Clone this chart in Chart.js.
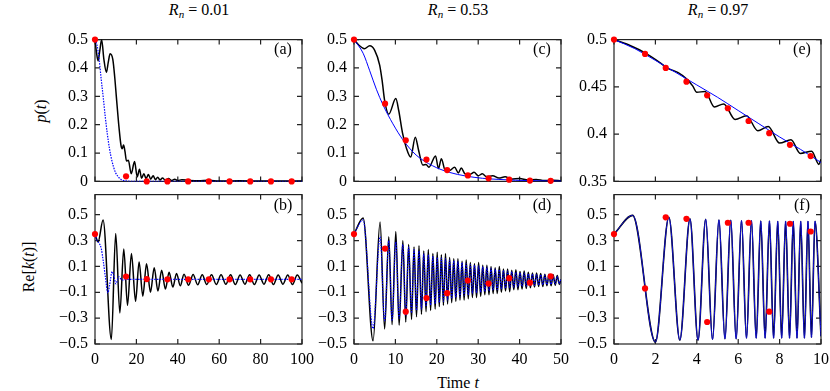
<!DOCTYPE html>
<html>
<head>
<meta charset="utf-8">
<script src="https://cdn.jsdelivr.net/npm/chart.js@4.4.1/dist/chart.umd.min.js"></script>
<style>
  body { margin: 0; background: #fff; }
  #fig { position: relative; width: 830px; height: 391px; font-family: "Liberation Serif", "DejaVu Serif", serif; color: #000; overflow: hidden; }
  #fig canvas { position: absolute; }
  .txt { position: absolute; font-size: 16px; white-space: nowrap; transform: translate(-50%, -50%); }
  .rot { transform: translate(-50%, -50%) rotate(-90deg); }
  sub { font-size: 11px; vertical-align: -3px; line-height: 0; }
</style>
</head>
<body>
<div id="fig">
  <div class="txt" style="left:199px;top:10px"><i>R</i><sub><i>n</i></sub> = 0.01</div>
  <div class="txt" style="left:458px;top:10px"><i>R</i><sub><i>n</i></sub> = 0.53</div>
  <div class="txt" style="left:718px;top:10px"><i>R</i><sub><i>n</i></sub> = 0.97</div>
  <div class="txt rot" style="left:41px;top:111px"><i>p</i>(<i>t</i>)</div>
  <div class="txt rot" style="left:29px;top:267px">Re[<i>k</i>(<i>t</i>)]</div>
  <div class="txt" style="left:458px;top:383px">Time <i>t</i></div>
</div>
<script>
// tick labels
const pTicks = [0, 0.1, 0.2, 0.3, 0.4, 0.5];
const pTicksE = [0.35, 0.4, 0.45, 0.5];
const kTicks = [-0.5, -0.3, -0.1, 0.1, 0.3, 0.5];
const tTicks1 = [0, 20, 40, 60, 80, 100];
const tTicks2 = [0, 10, 20, 30, 40, 50];
const tTicks3 = [0, 2, 4, 6, 8, 10];

// red sample points
const tDots1 = [0, 15, 25, 35, 45, 55, 65, 75, 85, 95];
const tDots2 = [0, 7.5, 12.5, 17.5, 22.5, 27.5, 32.5, 37.5, 42.5, 47.5];
const tDots3 = [0, 1.5, 2.5, 3.5, 4.5, 5.5, 6.5, 7.5, 8.5, 9.5];
const pDotsA = [0.5, 0.018, 0, 0, 0, 0, 0, 0, 0, 0];
const kDotsB = [0.35, 0.022, 0.002, 0, 0, 0, 0, 0, 0, 0];
const pDotsC = [0.5, 0.274, 0.145, 0.077, 0.04, 0.021, 0.011, 0.006, 0.003, 0.002];
const kDotsD = [0.35, 0.238, -0.25, -0.144, -0.107, -0.009, -0.033, 0.009, -0.026, 0.024];
const pDotsE = [0.5, 0.4848, 0.470, 0.4555, 0.441, 0.4274, 0.4139, 0.401, 0.3887, 0.3768];
const kDotsF = [0.35, -0.07, 0.48, 0.468, -0.33, 0.438, 0.438, -0.25, 0.43, 0.37];

// (a) p(t), Rn = 0.01
const tBlackA = [0, 0.8, 1.5, 2.3, 3.2, 4.3, 5.5, 6.4, 7.3, 8.6, 9.5, 10.3, 11.6, 12.6, 13.1, 13.8, 14.5, 15.2, 16.1, 17.5,
  19.1, 20.4, 21.5, 22.5, 23.6, 24.7, 25.8, 26.9, 28.1, 29.2, 30.3, 31.4, 32.6, 34, 35.5, 37, 38.5, 40, 42, 45, 50, 55, 60, 70, 80, 90, 100];
const pBlackA = [0.5, 0.45, 0.425, 0.46, 0.5, 0.43, 0.385, 0.42, 0.45, 0.43, 0.37, 0.3, 0.19, 0.125, 0.115, 0.128, 0.105, 0.072, 0.075, 0.027,
  0.07, 0.016, 0.043, 0.011, 0.027, 0.01, 0.024, 0.008, 0.02, 0.006, 0.015, 0.005, 0.012, 0.004, 0.01, 0.003, 0.008, 0.003, 0.006, 0.004, 0.002, 0.004, 0.001, 0.002, 0.001, 0.001, 0.001];
const tBlueA = [0, 1, 2, 3, 4, 5, 6, 7, 8, 9, 10, 11, 12, 13, 14, 16, 20, 100];
const pBlueA = [0.5, 0.48, 0.43, 0.36, 0.295, 0.225, 0.165, 0.115, 0.078, 0.05, 0.03, 0.018, 0.01, 0.005, 0.003, 0.001, 0, 0];

// (b) Re k(t), Rn = 0.01
const tBlackB = [0, 1.5, 3.9, 7.9, 10, 12, 13.9, 15.7, 17.6, 19.6, 21.3, 23.1, 24.9, 26.8, 28.6, 30.4, 32.2, 34, 35.8, 37.6,
  39.4, 41.2, 43, 45.2, 47.4, 49.6, 51.8, 54, 56.3, 58.6, 60.9, 63.2, 65.5, 67.8, 70.1, 72.4, 74.7, 77, 79.3, 81.6,
  83.9, 86.2, 88.5, 90.8, 93.1, 95.4, 97.7, 100];
const kBlackB = [0.35, 0.29, 0.46, -0.465, 0.355, -0.26, 0.235, -0.2, 0.2, -0.17, 0.135, -0.13, 0.12, -0.1, 0.09, -0.09, 0.07, -0.075, 0.055, -0.06,
  0.045, -0.05, 0.04, -0.045, 0.038, -0.042, 0.035, -0.04, 0.036, -0.04, 0.035, -0.038, 0.035, -0.04, 0.034, -0.038, 0.035, -0.04, 0.034, -0.038,
  0.035, -0.04, 0.033, -0.038, 0.034, -0.04, 0.033, -0.03];
const tBlueB = [0, 1, 2, 3, 4, 5, 6.2, 7, 8.3, 9.2, 10.1, 11.5, 13, 15, 100];
const kBlueB = [0.35, 0.3, 0.28, 0.24, 0.14, 0.02, -0.105, -0.05, 0.06, 0.02, -0.035, 0.02, -0.005, 0, 0];

// (c) p(t), Rn = 0.53
const tBlackC = [0, 1.2, 2.5, 3.8, 5, 6.2, 6.8, 7.4, 8.4, 10.1, 10.8, 11.7, 12.6, 13.7, 14.8, 15.6, 16.6, 17.4, 18.1, 19.7,
  20.4, 21.1, 22, 23, 24.3, 25.2, 25.9, 26.8, 28, 29, 30, 31, 32, 33.5, 35, 36.5, 38, 40, 42, 44, 46, 48, 50];
const pBlackC = [0.5, 0.48, 0.468, 0.478, 0.462, 0.41, 0.355, 0.285, 0.237, 0.292, 0.25, 0.172, 0.12, 0.086, 0.156, 0.11, 0.058, 0.06, 0.05, 0.09,
  0.045, 0.08, 0.04, 0.038, 0.05, 0.03, 0.047, 0.027, 0.025, 0.032, 0.02, 0.027, 0.017, 0.02, 0.012, 0.016, 0.008, 0.01, 0.005, 0.007, 0.003, 0.004, 0.002];
const tBlueC = [0, 2.2, 3.8, 5.4, 7, 9.4, 11.8, 15, 19, 23, 27, 31, 35, 39, 45, 50];
const pBlueC = [0.5, 0.452, 0.39, 0.325, 0.27, 0.203, 0.147, 0.093, 0.055, 0.032, 0.019, 0.011, 0.007, 0.004, 0.002, 0.001];

// (d) Re k(t), Rn = 0.53 : turning points of both curves
const tExtD = [0, 2.2, 4.6, 6.3, 7.4, 8.4, 9.2, 10.1, 10.9, 11.8, 12.5, 13.2, 13.9, 14.5, 15.1, 15.7, 16.3, 16.85, 17.4, 17.95, 18.5, 19.05, 19.6,
  20.1, 20.6, 21.1, 21.6, 22.1, 22.6, 23.1, 23.6, 24.1, 24.6, 25.1, 25.6, 26.1, 26.6, 27.1, 27.6, 28.1, 28.6, 29.1, 29.6,
  30.1, 30.6, 31.1, 31.6, 32.1, 32.6, 33.1, 33.6, 34.1, 34.6, 35.1, 35.6, 36.1, 36.6, 37.1, 37.6, 38.1, 38.6, 39.1, 39.6,
  40.1, 40.6, 41.1, 41.6, 42.1, 42.6, 43.1, 43.6, 44.1, 44.6, 45.1, 45.6, 46.1, 46.6, 47.1, 47.6, 48.1, 48.6, 49.1, 49.6, 50];
const kBlackD = [0.35, 0.475, -0.475, 0.443, -0.384, 0.33, -0.35, 0.37, -0.355, 0.3, -0.33, 0.27, -0.31, 0.25, -0.29, 0.26, -0.27, 0.22, -0.25, 0.23, -0.24, 0.2, -0.23,
  0.21, -0.21, 0.19, -0.2, 0.2, -0.19, 0.17, -0.18, 0.16, -0.17, 0.16, -0.16, 0.14, -0.16, 0.15, -0.15, 0.13, -0.14, 0.12, -0.14,
  0.13, -0.13, 0.11, -0.12, 0.11, -0.12, 0.1, -0.11, 0.09, -0.11, 0.1, -0.1, 0.08, -0.09, 0.08, -0.095, 0.07, -0.08, 0.075, -0.08,
  0.06, -0.075, 0.065, -0.07, 0.055, -0.065, 0.05, -0.06, 0.05, -0.055, 0.045, -0.055, 0.04, -0.05, 0.04, -0.05, 0.035, -0.045, 0.03, -0.04, 0.0];
const kBlueD = [0.35, 0.46, -0.38, 0.33, -0.32, 0.3, -0.32, 0.29, -0.3, 0.27, -0.28, 0.25, -0.26, 0.23, -0.24, 0.22, -0.23, 0.2, -0.21, 0.19, -0.2, 0.18, -0.19,
  0.17, -0.18, 0.165, -0.17, 0.16, -0.16, 0.15, -0.15, 0.145, -0.14, 0.14, -0.135, 0.13, -0.125, 0.125, -0.12, 0.115, -0.11, 0.11, -0.105,
  0.105, -0.1, 0.1, -0.095, 0.095, -0.09, 0.085, -0.085, 0.08, -0.08, 0.075, -0.075, 0.07, -0.07, 0.065, -0.065, 0.06, -0.06, 0.055, -0.058,
  0.052, -0.055, 0.05, -0.052, 0.045, -0.05, 0.042, -0.047, 0.04, -0.045, 0.037, -0.042, 0.033, -0.04, 0.03, -0.038, 0.027, -0.036, 0.024, -0.034, 0.0];

// (e) p(t), Rn = 0.97
const tBlackE = [0, 0.8, 1.5, 2.2, 2.6, 3.1, 3.5, 3.8, 4.0, 4.4, 4.85, 5.3, 5.85, 6.4, 6.95, 7.45, 8.0, 8.55, 9.0, 9.55, 9.9, 10];
const pBlackE = [0.5, 0.4935, 0.486, 0.476, 0.4695, 0.465, 0.4585, 0.451, 0.4442, 0.4452, 0.4287, 0.432, 0.4155, 0.4195, 0.4035, 0.408, 0.3905, 0.394, 0.3795, 0.382, 0.368, 0.3735];
const tBlueE = [0, 1, 2, 3, 4, 5, 6, 7, 8, 9, 10];
const pBlueE = [0.5, 0.4905, 0.478, 0.465, 0.452, 0.439, 0.425, 0.411, 0.397, 0.384, 0.37];

// (f) Re k(t), Rn = 0.97 : both curves lie on top of each other
const tExtF = [0, 0.9, 2.0, 2.65, 3.18, 3.67, 4.06, 4.43, 4.76, 5.07, 5.36, 5.64, 5.9, 6.16, 6.4, 6.64, 6.87,
  7.09, 7.3, 7.51, 7.71, 7.91, 8.1, 8.29, 8.48, 8.66, 8.84, 9.02, 9.2, 9.37, 9.54, 9.71, 10];
const kExtF = [0.35, 0.495, -0.485, 0.48, -0.47, 0.468, -0.47, 0.465, -0.465, 0.46, -0.46, 0.458, -0.46, 0.455, -0.455, 0.455, -0.455,
  0.452, -0.455, 0.452, -0.455, 0.45, -0.455, 0.45, -0.455, 0.45, -0.455, 0.45, -0.455, 0.45, -0.45, 0.45, -0.44];

const fig = document.getElementById('fig');
const tickFont = { family: '"Liberation Serif", "DejaVu Serif", serif', size: 16 };
const fmt = v => (v < 0 ? '\u2212' : '') + String(Math.round(Math.abs(v) * 100) / 100);
const pts = (ts, vs) => ts.map((t, i) => ({ x: t, y: vs[i] }));

const line = (ts, vs, color, w, dash) => ({
  data: pts(ts, vs), borderColor: color, borderWidth: w, borderDash: dash || [],
  pointRadius: 0, cubicInterpolationMode: 'monotone', fill: false
});
const dots = (ts, vs) => ({
  data: pts(ts, vs), showLine: false, pointRadius: 3.1, pointBorderWidth: 0,
  pointBackgroundColor: '#ff0000', borderColor: '#ff0000', clip: false
});

// box with inward ticks on all four sides
const frame = {
  id: 'frame',
  beforeDatasetsDraw(chart) {
    const { ctx, chartArea: a, scales: { x, y } } = chart;
    ctx.save();
    ctx.strokeStyle = '#222';
    ctx.lineWidth = 1.2;
    ctx.strokeRect(a.left, a.top, a.right - a.left, a.bottom - a.top);
    ctx.beginPath();
    x.ticks.forEach(t => {
      const px = x.getPixelForValue(t.value);
      ctx.moveTo(px, a.bottom); ctx.lineTo(px, a.bottom - 5);
      ctx.moveTo(px, a.top); ctx.lineTo(px, a.top + 5);
    });
    y.ticks.forEach(t => {
      const py = y.getPixelForValue(t.value);
      ctx.moveTo(a.left, py); ctx.lineTo(a.left + 5, py);
      ctx.moveTo(a.right, py); ctx.lineTo(a.right - 5, py);
    });
    ctx.stroke();
    ctx.restore();
  }
};

function makePanel(box, xr, yr, xt, yt, showX, tag, sets) {
  const padT = 10, padR = 20, axW = 60;
  const axH = showX ? 30 : 0, padB = showX ? 0 : 10;
  const cv = document.createElement('canvas');
  cv.width = box.w + axW + padR;
  cv.height = box.h + padT + axH + padB;
  cv.style.left = (box.l - axW) + 'px';
  cv.style.top = (box.t - padT) + 'px';
  fig.appendChild(cv);

  const lab = document.createElement('div');
  lab.className = 'txt';
  lab.textContent = tag;
  lab.style.left = (box.l + box.w - 19) + 'px';
  lab.style.top = (box.t + (showX ? 17 : 16)) + 'px';
  fig.appendChild(lab);

  new Chart(cv, {
    type: 'line',
    data: { datasets: sets },
    options: {
      responsive: false, animation: false, devicePixelRatio: 1,
      layout: { padding: { left: 0, top: padT, right: padR, bottom: padB } },
      plugins: { legend: { display: false }, tooltip: { enabled: false } },
      scales: {
        x: {
          type: 'linear', min: xr[0], max: xr[1],
          grid: { display: false, drawTicks: false }, border: { display: false },
          afterBuildTicks: s => { s.ticks = xt.map(v => ({ value: v })); },
          afterFit: s => { s.height = axH; },
          ticks: { display: showX, padding: 6, color: '#000', font: tickFont, maxRotation: 0, autoSkip: false, callback: fmt }
        },
        y: {
          type: 'linear', min: yr[0], max: yr[1],
          grid: { display: false, drawTicks: false }, border: { display: false },
          afterBuildTicks: s => { s.ticks = yt.map(v => ({ value: v })); },
          afterFit: s => { s.width = axW; },
          ticks: { padding: 7, color: '#000', font: tickFont, autoSkip: false, callback: fmt }
        }
      }
    },
    plugins: [frame]
  });
}

const colL = [95, 354, 614], colW = 207;
const topRow = { t: 33, h: 155 }, botRow = { t: 188, h: 156 };
const kRange = [-0.5, 0.6556];
const dotted = [1.5, 1.2];

makePanel({ l: colL[0], w: colW, ...topRow }, [0, 100], [0, 0.5], tTicks1, pTicks, false, '(a)', [
  dots(tDots1, pDotsA), line(tBlueA, pBlueA, '#0000ff', 1.2, dotted), line(tBlackA, pBlackA, '#000', 1.5)
]);
makePanel({ l: colL[0], w: colW, ...botRow }, [0, 100], kRange, tTicks1, kTicks, true, '(b)', [
  dots(tDots1, kDotsB), line(tBlueB, kBlueB, '#0000ff', 1.2, dotted), line(tBlackB, kBlackB, '#000', 1.5)
]);
makePanel({ l: colL[1], w: colW, ...topRow }, [0, 50], [0, 0.5], tTicks2, pTicks, false, '(c)', [
  dots(tDots2, pDotsC), line(tBlueC, pBlueC, '#0000ff', 1.0), line(tBlackC, pBlackC, '#000', 1.5)
]);
makePanel({ l: colL[1], w: colW, ...botRow }, [0, 50], kRange, tTicks2, kTicks, true, '(d)', [
  dots(tDots2, kDotsD), line(tExtD, kBlueD, '#0000ff', 1.1, dotted), line(tExtD, kBlackD, '#000', 1.5)
]);
makePanel({ l: colL[2], w: colW, ...topRow }, [0, 10], [0.35, 0.5], tTicks3, pTicksE, false, '(e)', [
  dots(tDots3, pDotsE), line(tBlueE, pBlueE, '#0000ff', 1.0), line(tBlackE, pBlackE, '#000', 1.5)
]);
makePanel({ l: colL[2], w: colW, ...botRow }, [0, 10], kRange, tTicks3, kTicks, true, '(f)', [
  dots(tDots3, kDotsF), line(tExtF, kExtF, '#1010d0', 1.0), line(tExtF, kExtF, '#000', 1.6)
]);
</script>
</body>
</html>
